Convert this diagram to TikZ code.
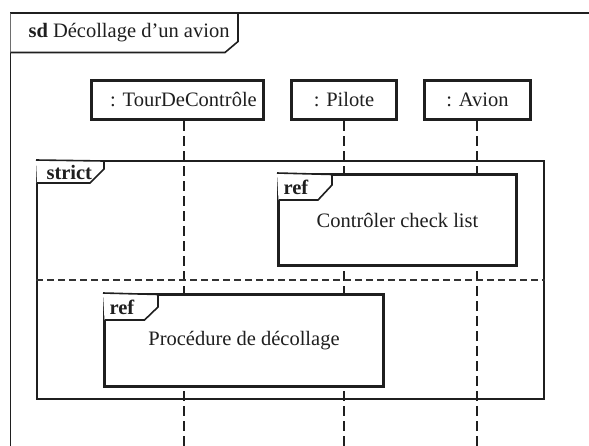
\documentclass[tikz,border=0pt]{standalone}
\usepackage{fontspec}
\setmainfont{Liberation Serif}
\begin{document}
\begin{tikzpicture}[x=1pt,y=-1pt,
  every node/.style={font=\fontsize{20.5}{24}\selectfont, text=black!88},
  lifebox/.style={draw=black!88, line width=3.2pt, minimum height=39pt, inner sep=0pt},
  refbox/.style={draw=black!88, fill=white, line width=3pt, inner sep=0pt},
  framebox/.style={draw=black!88, line width=2pt, inner sep=0pt},
  labelpen/.style={draw=black!88, line width=1.6pt, fill=white, line join=miter},
  lifeline/.style={draw=black!88, line width=1.8pt, dash pattern=on 10pt off 5pt},
  sepline/.style={draw=black!80, line width=1.6pt, dash pattern=on 7pt off 4pt}
]
\clip (0,0) rectangle (589,445);
% outer frame
\coordinate (frTL) at (10.5,13);
\coordinate (frBL) at (10.5,460);
\coordinate (frTR) at (600,13);
\draw[draw=black!88, line width=1.5pt] (frBL) -- (frTL) -- (frTR);
\draw[labelpen] (frTL) -- (238,13) -- (238,41.5) -- (225,52.5) -- (10.5,52.5);
\node[anchor=west] (sdlab) at (25,33) {\textbf{sd} Décollage d’un avion};

% lifeline heads
\node[lifebox, minimum width=172pt] (tour) at (177.5,100) {\hspace*{12pt}: TourDeContrôle};
\node[lifebox, minimum width=105pt] (pil) at (344,100) {: Pilote};
\node[lifebox, minimum width=106pt] (avi) at (477.5,100) {: Avion};
\coordinate (tourEnd) at (184,450);
\coordinate (pilEnd) at (344,450);
\coordinate (aviEnd) at (477,450);
\draw[lifeline] (tour.south -| tourEnd) -- (tourEnd);
\draw[lifeline] (pil.south) -- (pilEnd);
\draw[lifeline] (avi.south -| aviEnd) -- (aviEnd);

% strict fragment
\node[framebox, minimum width=507pt, minimum height=238pt] (strict) at (290.5,280) {};
\draw[sepline] (strict.west) -- (strict.east);
\draw[labelpen] (strict.north west) -- (104,161) -- (104,169) -- (90,183) -- (37,183);
\node[anchor=west, font=\fontsize{20.5}{24}\selectfont\bfseries] (strictlab) at (43,172) {strict};

% ref 1
\node[refbox, minimum width=238pt, minimum height=91pt] (ref1) at (397.5,220) {Contrôler check list};
\draw[labelpen] (ref1.north west) -- (332,174.5) -- (332,185) -- (318,200) -- (278.5,200);
\node[anchor=west, font=\fontsize{20.5}{24}\selectfont\bfseries] (ref1lab) at (280,187) {ref};

% ref 2
\node[refbox, minimum width=279pt, minimum height=92pt] (ref2) at (244,340.5) {Procédure de décollage};
\draw[labelpen] (ref2.north west) -- (158,294.5) -- (158,307) -- (144.5,320) -- (104.5,320);
\node[anchor=west, font=\fontsize{20.5}{24}\selectfont\bfseries] (ref2lab) at (106,307) {ref};
\end{tikzpicture}
\end{document}
